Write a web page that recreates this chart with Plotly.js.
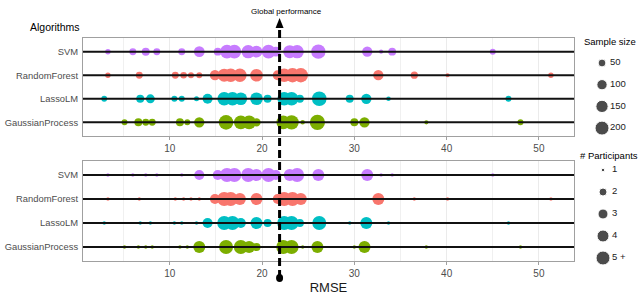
<!DOCTYPE html>
<html>
<head>
<meta charset="utf-8">
<script src="https://cdn.plot.ly/plotly-3.0.1.min.js"></script>
<style>html,body{margin:0;padding:0;background:#fff;}#chart{width:640px;height:297px;}</style>
</head>
<body>
<div id="chart"></div>
<script>
// ---------- data ----------
const algorithms = ['SVM', 'RandomForest', 'LassoLM', 'GaussianProcess'];

const svmRmse         = [3.3, 6.0, 7.4, 8.6, 11.3, 13.2, 15.2, 16.2, 17.0, 18.5, 19.4, 20.7, 21.5, 23.0, 23.8, 26.1, 31.4, 32.9, 34.1, 45.0];
const svmSample       = [15, 36, 53, 36, 36, 110, 50, 190, 190, 180, 140, 190, 90, 170, 180, 210, 100, 1, 50, 22];
const svmParticipants = [1, 1, 1, 1, 1, 3, 3, 5, 5, 5, 4, 5, 3, 4, 5, 4, 4, 1, 1, 1];

const rfRmse          = [3.3, 6.7, 10.6, 11.5, 12.3, 13.2, 14.9, 15.9, 16.6, 17.6, 19.4, 21.7, 22.4, 23.3, 24.2, 32.6, 36.5, 40.1, 51.3];
const rfSample        = [15, 36, 36, 30, 22, 22, 100, 170, 190, 180, 160, 93, 190, 210, 210, 100, 40, 1, 15];
const rfParticipants  = [1, 1, 1, 1, 1, 1, 3, 5, 5, 4, 4, 3, 5, 5, 4, 4, 1, 1, 1];

const lassoRmse         = [2.9, 6.8, 7.9, 10.5, 11.3, 12.9, 14.1, 15.9, 16.8, 17.7, 19.4, 20.6, 22.4, 23.2, 24.1, 26.2, 29.5, 31.3, 33.7, 46.7];
const lassoSample       = [20, 53, 70, 22, 22, 10, 93, 190, 190, 160, 160, 53, 190, 190, 53, 220, 53, 100, 5, 22];
const lassoParticipants = [1, 1, 1, 1, 1, 1, 3, 5, 5, 3, 4, 2, 5, 5, 2, 5, 1, 4, 1, 1];

const gpRmse          = [5.1, 6.6, 7.4, 8.1, 11.1, 11.9, 13.2, 16.1, 17.7, 18.6, 19.4, 22.3, 23.2, 24.4, 26.0, 30.0, 31.1, 37.8, 48.0];
const gpSample        = [22, 53, 36, 36, 53, 22, 100, 220, 190, 190, 60, 190, 210, 5, 240, 53, 100, 1, 22];
const gpParticipants  = [1, 1, 1, 1, 1, 1, 4, 5, 5, 4, 2, 5, 5, 1, 4, 1, 4, 1, 1];

const globalPerformance = 21.9;

const legendSampleValues = [50, 100, 150, 200];
const legendParticipantValues = [1, 2, 3, 4, 5];
const legendParticipantLabels = ['1', '2', '3', '4', '5 +'];

// ---------- scales / styles ----------
const colorsByAlgo = {SVM: '#C77CFF', RandomForest: '#F8766D', LassoLM: '#00BFC4', GaussianProcess: '#7CAE00'};
function sampleDiameter(n) { return Math.sqrt(16 + 0.9 * n); }
const participantRange = [0, 3.5, 8, 10, 12, 14];
function participantDiameter(p) { return participantRange[Math.min(p, 5)]; }

const series = [
  {name: 'SVM', x: svmRmse, s: svmSample, p: svmParticipants},
  {name: 'RandomForest', x: rfRmse, s: rfSample, p: rfParticipants},
  {name: 'LassoLM', x: lassoRmse, s: lassoSample, p: lassoParticipants},
  {name: 'GaussianProcess', x: gpRmse, s: gpSample, p: gpParticipants}
];

const traces = [];
series.forEach(sr => {
  traces.push({
    type: 'scatter', mode: 'markers', x: sr.x, y: sr.x.map(() => sr.name),
    xaxis: 'x', yaxis: 'y', showlegend: false, hoverinfo: 'x',
    marker: {color: colorsByAlgo[sr.name], size: sr.s.map(sampleDiameter), line: {width: 0}, opacity: 1}
  });
  traces.push({
    type: 'scatter', mode: 'markers', x: sr.x, y: sr.x.map(() => sr.name),
    xaxis: 'x2', yaxis: 'y2', showlegend: false, hoverinfo: 'x',
    marker: {color: colorsByAlgo[sr.name], size: sr.p.map(participantDiameter), line: {width: 0}, opacity: 1}
  });
});

const font = 'Liberation Sans, Arial, sans-serif';
const legendTextFont = {family: font, size: 9.5, color: '#222'};
// legend keys (pixel-like coordinates on a hidden axis)
const sampleKeyY = legendSampleValues.map((v, i) => 63 + i * 21.7);
const partKeyY = legendParticipantValues.map((v, i) => 170 + i * 22);
traces.push({
  type: 'scatter', mode: 'markers', xaxis: 'x3', yaxis: 'y3', showlegend: false, hoverinfo: 'skip',
  x: legendSampleValues.map(() => 23), y: sampleKeyY,
  marker: {color: '#000', size: legendSampleValues.map(sampleDiameter)}, cliponaxis: false
});
traces.push({
  type: 'scatter', mode: 'text', xaxis: 'x3', yaxis: 'y3', showlegend: false, hoverinfo: 'skip',
  x: legendSampleValues.map(() => 31), y: sampleKeyY,
  text: legendSampleValues.map(String), textposition: 'middle right', textfont: legendTextFont, cliponaxis: false
});
traces.push({
  type: 'scatter', mode: 'markers', xaxis: 'x3', yaxis: 'y3', showlegend: false, hoverinfo: 'skip',
  x: legendParticipantValues.map(() => 24), y: partKeyY,
  marker: {color: '#000', size: legendParticipantValues.map(participantDiameter)}, cliponaxis: false
});
traces.push({
  type: 'scatter', mode: 'text', xaxis: 'x3', yaxis: 'y3', showlegend: false, hoverinfo: 'skip',
  x: legendParticipantValues.map(() => 33), y: partKeyY,
  text: legendParticipantLabels, textposition: 'middle right', textfont: legendTextFont, cliponaxis: false
});

const xr = [0.6, 53.8];
const xBase = {
  range: xr, tick0: 0, dtick: 10, showgrid: true, gridcolor: '#ebebeb', gridwidth: 1,
  minor: {dtick: 5, showgrid: true, gridcolor: '#f0f0f0', gridwidth: 1, ticks: ''},
  zeroline: false, showline: true, mirror: true, linecolor: '#a0a0a0', linewidth: 1,
  ticks: 'outside', ticklen: 3, tickcolor: '#a0a0a0',
  tickfont: {family: font, size: 10, color: '#4d4d4d'}, domain: [0, 0.8815]
};
const yBase = {
  type: 'category', categoryorder: 'array', categoryarray: algorithms, range: [3.58, -0.58],
  showgrid: false, zeroline: false, showline: true, mirror: true, linecolor: '#a0a0a0', linewidth: 1,
  ticks: '', tickfont: {family: font, size: 9.4, color: '#4d4d4d'}, ticklabelstandoff: 2
};

const shapes = [];
algorithms.forEach((a, i) => {
  shapes.push({type: 'line', xref: 'x domain', yref: 'y', x0: 0, x1: 1, y0: i, y1: i, layer: 'above', line: {color: '#111', width: 2}});
  shapes.push({type: 'line', xref: 'x2 domain', yref: 'y2', x0: 0, x1: 1, y0: i, y1: i, layer: 'above', line: {color: '#111', width: 2}});
});
// global performance marker line
shapes.push({type: 'line', xref: 'x', yref: 'paper', x0: globalPerformance, x1: globalPerformance, y0: -0.076, y1: 1.06,
  layer: 'above', line: {color: '#000', width: 3, dash: '8px,4px'}});
shapes.push({type: 'path', xref: 'x', yref: 'paper', xsizemode: 'pixel', ysizemode: 'pixel',
  xanchor: globalPerformance, yanchor: 1.085, path: 'M -4 -9 L 4 -9 L 0 1 Z', fillcolor: '#000', line: {width: 0}, layer: 'above'});
shapes.push({type: 'circle', xref: 'x', yref: 'paper', xsizemode: 'pixel', ysizemode: 'pixel',
  xanchor: globalPerformance, yanchor: -0.0762, x0: -3.5, x1: 3.5, y0: -4, y1: 4, fillcolor: '#000', line: {width: 0}, layer: 'above'});

const layout = {
  width: 640, height: 297, margin: {l: 83, r: 0, t: 38, b: 36},
  paper_bgcolor: '#fff', plot_bgcolor: '#fff', showlegend: false,
  font: {family: font},
  xaxis: Object.assign({}, xBase, {anchor: 'y'}),
  yaxis: Object.assign({}, yBase, {domain: [0.5605, 1], anchor: 'x'}),
  xaxis2: Object.assign({}, xBase, {anchor: 'y2', title: {text: 'RMSE', font: {family: font, size: 13, color: '#1a1a1a'}, standoff: 4}}),
  yaxis2: Object.assign({}, yBase, {domain: [0, 0.4484], anchor: 'x2'}),
  xaxis3: {domain: [0.8905, 1], range: [0, 61], visible: false, fixedrange: true, anchor: 'y3'},
  yaxis3: {domain: [0, 1], range: [261, 38], visible: false, fixedrange: true, anchor: 'x3'},
  shapes: shapes,
  annotations: [
    {text: 'Algorithms', xref: 'paper', yref: 'paper', x: -0.0987, y: 1.049, xanchor: 'left', yanchor: 'middle', showarrow: false,
     font: {family: font, size: 10.5, color: '#000'}},
    {text: 'Global performance', xref: 'x', yref: 'paper', x: 22.7, y: 1.117, xanchor: 'center', yanchor: 'middle', showarrow: false,
     font: {family: font, size: 8, color: '#000'}},
    {text: 'Sample size', xref: 'paper', yref: 'paper', x: 0.8959, y: 0.9865, xanchor: 'left', yanchor: 'middle', showarrow: false,
     font: {family: font, size: 9.5, color: '#000'}},
    {text: '# Participants', xref: 'paper', yref: 'paper', x: 0.8887, y: 0.4753, xanchor: 'left', yanchor: 'middle', showarrow: false,
     font: {family: font, size: 9.5, color: '#000'}}
  ]
};

Plotly.newPlot('chart', traces, layout, {staticPlot: true, displayModeBar: false});
</script>
</body>
</html>
